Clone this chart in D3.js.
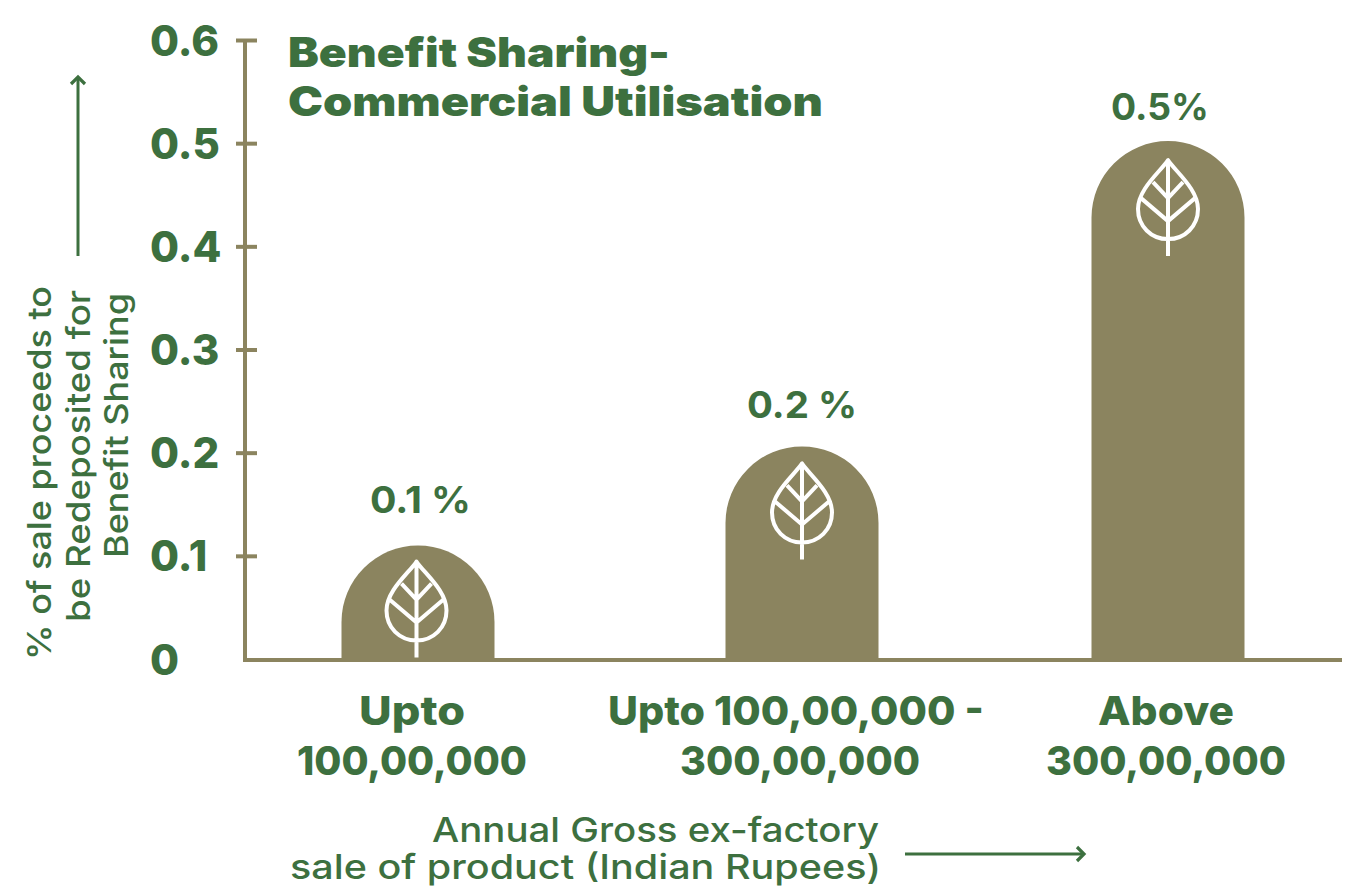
<!DOCTYPE html>
<html><head><meta charset="utf-8">
<script src="https://cdn.jsdelivr.net/npm/d3@7/dist/d3.min.js"></script>
<style>html,body{margin:0;background:#fff}svg{display:block}text{font-family:Inter,"Open Sans",sans-serif}</style>
</head><body><svg id="c" width="1352" height="886"></svg>
<script>
const categories = ["low","mid","high"];
const barValues = [0.11, 0.206, 0.502];
const valueLabels = ["0.1 %", "0.2 %", "0.5%"];
const categoryLines = [["Upto","100,00,000"],["Upto 100,00,000 -","300,00,000"],["Above","300,00,000"]];
const yTicks = [0,0.1,0.2,0.3,0.4,0.5,0.6];
const titleLines = ["Benefit Sharing-","Commercial Utilisation"];
const yTitleLines = ["% of sale proceeds to","be Redeposited for","Benefit Sharing"];
const xTitleLines = ["Annual Gross ex-factory","sale of product (Indian Rupees)"];

const green="#3d703f", olive="#8b845f";
const svg=d3.select("#c");
const y=d3.scaleLinear().domain([0,0.6]).range([659,40]);
const x=d3.scaleOrdinal().domain(categories).range([418,802,1168]);
const labelX=d3.scaleOrdinal().domain(categories).range([412,796,1166]);
const barW=153;

function fit(sel,w){ sel.each(function(){ this.setAttribute("textLength",w); this.setAttribute("lengthAdjust","spacingAndGlyphs"); }); }

svg.append("defs").append("marker").attr("id","arr").attr("markerWidth",20).attr("markerHeight",20)
  .attr("refX",14).attr("refY",10).attr("orient","auto").attr("markerUnits","userSpaceOnUse")
  .append("path").attr("d","M7,3L14,10L7,17").attr("fill","none").attr("stroke",green).attr("stroke-width",3.2);

// y axis
const axis=d3.axisLeft(y).tickValues(yTicks).tickSize(0).tickFormat(d=>d===0?"0":d3.format(".1f")(d));
const ga=svg.append("g").attr("transform","translate(245,0)").call(axis);
ga.select(".domain").attr("stroke",olive).attr("stroke-width",4).attr("d","M0,40V660");
ga.selectAll(".tick line").attr("x1",-9).attr("x2",12).attr("stroke",olive).attr("stroke-width",4)
  .filter(d=>d===0).remove();
ga.selectAll(".tick text").attr("x",-95).attr("dy",0).attr("y",15).attr("text-anchor","start")
  .attr("fill",green).attr("font-size",42).attr("font-weight",800).style("font-family","Inter");
svg.append("line").attr("x1",243).attr("x2",1342).attr("y1",y(0)+1).attr("y2",y(0)+1)
  .attr("stroke",olive).attr("stroke-width",4);

// bars
const rows=categories.map((c,i)=>({c,v:barValues[i],l:valueLabels[i],cl:categoryLines[i],i}));
const r=barW/2;
svg.append("g").selectAll("path").data(rows).join("path").attr("fill",olive)
  .attr("d",d=>{const x0=x(d.c)-r,x1=x(d.c)+r,t=y(d.v),b=y(0);
    return `M${x0},${b}V${t+r}A${r},${r} 0 0 1 ${x1},${t+r}V${b}Z`;});

// leaf glyphs
const leaf="M0,-43 C-8,-31 -30,-14 -30,6 C-30,23 -17,36 0,36 C17,36 30,23 30,6 C30,-14 8,-31 0,-43Z"+
  "M0,-43V53 M0,-5L-15,-21 M0,-5L15,-21 M0,18L-27,-5 M0,18L27,-5";
const leafDx=[-1.5,0,0], leafDy=[59,60,62];
svg.append("g").selectAll("path").data(rows).join("path")
  .attr("d",leaf).attr("fill","none").attr("stroke","#fff").attr("stroke-width",4).attr("stroke-linejoin","round")
  .attr("transform",d=>`translate(${x(d.c)+leafDx[d.i]},${y(d.v)+leafDy[d.i]})`);

// value labels
const valDx=[2.5,0,-8], valDy=[-33,-28,-21], valW=[101,110,98];
svg.append("g").selectAll("text").data(rows).join("text")
  .attr("x",d=>x(d.c)+valDx[d.i]).attr("y",d=>y(d.v)+valDy[d.i])
  .attr("text-anchor","middle").attr("fill",green).attr("font-size",37).attr("font-weight",700)
  .text(d=>d.l).each(function(d){this.setAttribute("textLength",valW[d.i]);this.setAttribute("lengthAdjust","spacingAndGlyphs");});

// category labels
const widths=[[106,230],[376,240],[136,240]];
rows.forEach((d,i)=>d.cl.forEach((t,j)=>{
  svg.append("text").attr("x",labelX(d.c)+(i===1&&j===1?4:0)).attr("y",725+j*50).attr("text-anchor","middle")
    .attr("fill",green).attr("font-size",40).attr("font-weight",800).text(t)
    .call(fit,widths[i][j]);
}));

// title
titleLines.forEach((t,j)=>svg.append("text").attr("x",288).attr("y",67+j*49)
  .attr("fill",green).attr("font-size",41).attr("font-weight",900).text(t).call(fit,[382,535][j]));

// y title and arrow
const yW=[374,332,265], yB=[660,622,558];
yTitleLines.forEach((t,j)=>svg.append("text")
  .attr("transform",`translate(${51+j*38.5},${yB[j]}) rotate(-90)`)
  .attr("fill",green).attr("font-size",33).attr("font-weight",500).text(t).call(fit,yW[j]));
svg.append("line").attr("x1",78).attr("x2",78).attr("y1",256).attr("y2",77)
  .attr("stroke",green).attr("stroke-width",3).attr("marker-end","url(#arr)");

// x title and arrow
const xTitleX=[432,290];
xTitleLines.forEach((t,j)=>svg.append("text").attr("x",xTitleX[j]).attr("y",[842,879][j])
  .attr("fill",green).attr("font-size",34).attr("font-weight",500).text(t).call(fit,[447,591][j]));
svg.append("line").attr("x1",905).attr("x2",1084).attr("y1",854).attr("y2",854)
  .attr("stroke",green).attr("stroke-width",3).attr("marker-end","url(#arr)");
</script></body></html>
